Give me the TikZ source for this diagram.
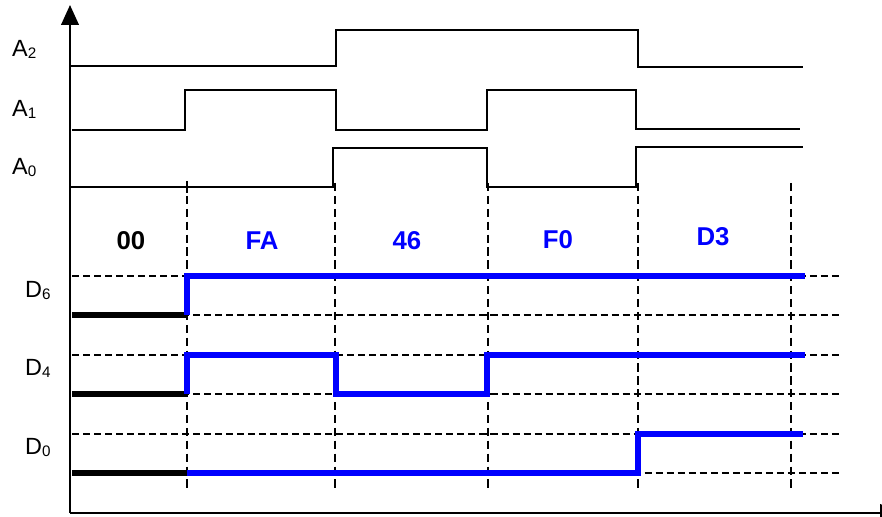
\documentclass[tikz,border=0pt]{standalone}
\usepackage{fontspec}
\setmainfont{Liberation Sans}
\usetikzlibrary{arrows.meta, positioning}
\newcommand{\idx}[1]{\raisebox{-0.08em}{\fontsize{13}{13}\selectfont #1}}

\begin{document}
\begin{tikzpicture}[x = 0.03cm, y = -0.03cm,
  addr/.style = {line width = 1.7pt},
  bit/.style = {color = blue, line width = 4.3pt},
  prev/.style = {line width = 4.3pt},
  level/.style = {dash pattern = on 6pt off 3.4pt, line width = 1.4pt},
  edge/.style = {dash pattern = on 7pt off 4pt, line width = 1.8pt},
  sig/.style = {anchor = base west, inner sep = 0pt, font = \fontsize{20}{22}\selectfont},
  word/.style = {font = \fontsize{22}{24}\selectfont\bfseries}]
\useasboundingbox (0,0) rectangle (882,517);
\node[coordinate] at(70,513) (o) {};

% axes
\draw[-{Triangle[length = 17pt, width = 15pt]}, line width = 1.7pt] (o) -- (70,5);
\draw[-{Triangle[length = 17pt, width = 15pt]}, line width = 1.7pt] (o) -- (900,513);

% dashed grid
\foreach \t in {187, 335, 488, 638, 791}
  \draw[edge] (\t,183) -- (\t,490);
\foreach \l in {276, 315, 355, 394, 434, 473}
  \draw[level] (72,\l) -- (842,\l);

% address lines
\node[sig] at(12,57) (a2) {A\idx{2}};
\node[sig] at(12,117) (a1) {A\idx{1}};
\node[sig] at(12,175) (a0) {A\idx{0}};
\draw[addr] (70,66) -- (336,66) -- (336,30) -- (638,30) -- (638,67) -- (803,67);
\draw[addr] (72,130) -- (185,130) -- (185,90) -- (336,90) -- (336,130) -- (487,130) -- (487,90) -- (636,90) -- (636,129) -- (800,129);
\draw[addr] (70,187) -- (333,187) -- (333,148) -- (487,148) -- (487,187) -- (636,187) -- (636,147) -- (803,147);
\draw[addr] (187,181) -- (187,193);

% data words
\node[word] at(131,241) (w0) {00};
\node[word, blue] at(262,241) (w1) {FA};
\node[word, blue] at(407,241) (w2) {46};
\node[word, blue] at(558,240) (w3) {F0};
\node[word, blue] at(713,237) (w4) {D3};

% data lines
\node[sig] at(25,298) (d6) {D\idx{6}};
\node[sig] at(25,376) (d4) {D\idx{4}};
\node[sig] at(25,455) (d0) {D\idx{0}};
\draw[prev] (72,315) -- (187,315);
\draw[prev] (72,394) -- (187,394);
\draw[prev] (72,473) -- (187,473);
\draw[bit] (187,315) -- (187,276) -- (805,276);
\draw[bit] (187,394) -- (187,355) -- (336,355) -- (336,394) -- (487,394) -- (487,355) -- (805,355);
\draw[bit] (187,473) -- (638,473) -- (638,434) -- (803,434);
\end{tikzpicture}
\end{document}
